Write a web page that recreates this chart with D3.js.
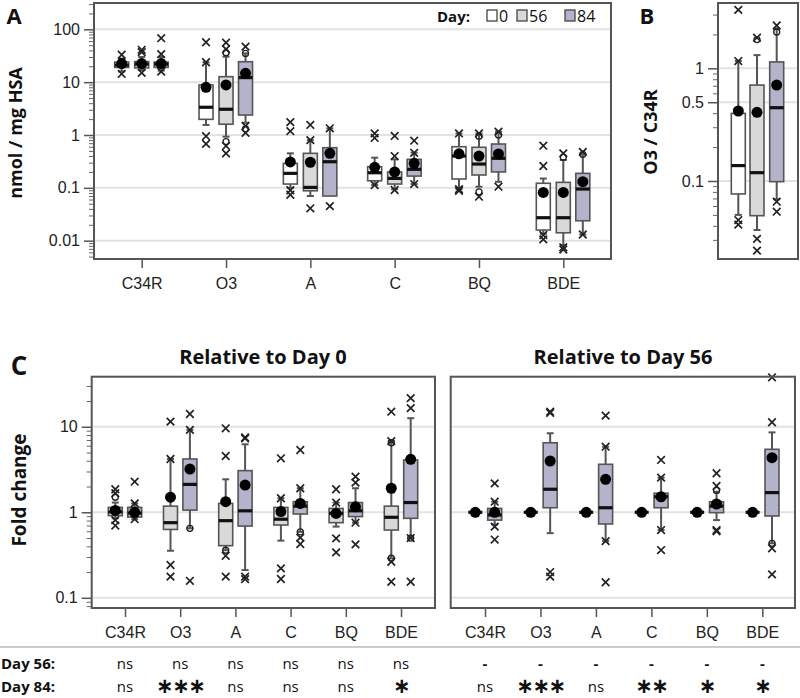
<!DOCTYPE html>
<html>
<head>
<meta charset="utf-8">
<script src="https://cdn.jsdelivr.net/npm/d3@7"></script>
<style>
  body { margin: 0; background: #fff; }
  svg { font-family: "Open Sans", sans-serif; }
</style>
</head>
<body>
<svg id="chart" width="800" height="698"></svg>
<script>
// ---- data (box = [low whisker, q1, median, q3, high whisker]) ----
var categories = ["C34R", "O3", "A", "C", "BQ", "BDE"];
var days = ["0", "56", "84"];

// Panel A: nmol / mg HSA
var aDay0Box = [[16, 19, 21, 24, 28], [1.55, 1.98, 3.35, 8.85, 23.8], [0.1, 0.118, 0.188, 0.29, 0.45],
  [0.113, 0.136, 0.193, 0.251, 0.372], [0.094, 0.147, 0.4, 0.6, 1.07], [0.0135, 0.0159, 0.0272, 0.122, 0.15]];
var aDay0Mean = [22.5, 8.0, 0.31, 0.244, 0.44, 0.082];
var aDay0Out = [[33, 14.3], [57, 23.8, 0.95, 0.68], [1.75, 1.18, 0.09, 0.074], [1.07, 0.88, 0.113],
  [1.07, 0.094, 0.088], [0.627, 0.259, 0.0128, 0.0106]];
var aDay0Ring = [[], [], [], [], [], []];

var aDay56Box = [[17, 18.6, 22, 24.5, 30], [0.93, 1.6, 3.07, 12.7, 30.4], [0.07, 0.088, 0.102, 0.45, 0.8],
  [0.094, 0.118, 0.151, 0.2, 0.346], [0.105, 0.175, 0.282, 0.585, 1.07], [0.0083, 0.0141, 0.0272, 0.127, 0.336]];
var aDay56Mean = [22.5, 8.85, 0.305, 0.2, 0.4, 0.082];
var aDay56Out = [[41, 37, 15], [56, 42, 0.62, 0.45], [1.55, 0.8, 0.041], [0.96, 0.4, 0.091],
  [1.07, 0.068], [0.45, 0.0075, 0.0068]];
var aDay56Ring = [[], [36, 0.75], [], [], [0.95, 0.084], [0.38]];

var aDay84Box = [[16.5, 19, 22, 24, 30], [1.7, 2.39, 12.2, 24.4, 35], [0.07, 0.07, 0.312, 0.575, 1.34],
  [0.118, 0.167, 0.224, 0.346, 0.463], [0.13, 0.2, 0.362, 0.675, 1.16], [0.0131, 0.0238, 0.095, 0.188, 0.43]];
var aDay84Mean = [22.5, 14.7, 0.45, 0.291, 0.437, 0.131];
var aDay84Out = [[68, 34, 15.8], [47, 1.48, 1.1], [1.34, 0.045], [0.78, 0.46, 0.118], [1.16, 0.105], [0.48, 0.0131]];
var aDay84Ring = [[], [35, 1.3], [], [], [1.0], [0.43]];

var aTicks = [0.01, 0.1, 1, 10, 100];
var aTickLabels = ["0.01", "0.1", "1", "10", "100"];

// Panel B: O3 / C34R
var bBox = [[0.05, 0.0767, 0.137, 0.398, 1.16], [0.0367, 0.0492, 0.1185, 0.71, 1.31], [0.0688, 0.0986, 0.447, 1.14, 2.26]];
var bMean = [0.418, 0.407, 0.71];
var bOut = [[3.3, 1.16, 0.045, 0.041], [1.87, 0.0306, 0.0241], [2.4, 0.0655, 0.0534]];
var bRing = [[], [1.8], [2.1]];
var bTicks = [0.1, 0.5, 1];
var bTickLabels = ["0.1", "0.5", "1"];

// Panel C left: relative to Day 0
var cL56Box = [[0.85, 0.913, 1.01, 1.14, 1.3], [0.355, 0.63, 0.756, 1.18, 4.2], [0.36, 0.407, 0.798, 1.27, 2.43],
  [0.466, 0.71, 0.83, 1.14, 1.46], [0.68, 0.756, 0.973, 1.11, 1.3], [0.29, 0.62, 0.874, 1.18, 6.8]];
var cL56Mean = [1.05, 1.5, 1.33, 1.02, 0.97, 1.91];
var cL56Out = [[1.86, 1.67, 0.81, 0.70], [11.5, 4.2, 0.242, 0.177], [9.6, 4.55, 0.31, 0.177],
  [4.28, 1.46, 0.221, 0.166], [1.86, 1.3, 0.496, 0.34], [15, 6.8, 0.264, 0.154]];
var cL56Ring = [[1.5], [], [0.36], [], [], [6.5, 0.29]];

var cL84Box = [[0.83, 0.88, 0.98, 1.14, 1.27], [0.65, 1.06, 2.12, 4.2, 9.2], [0.211, 0.69, 1.04, 3.07, 6.24],
  [0.59, 0.955, 1.18, 1.33, 1.91], [0.756, 0.89, 1.04, 1.3, 1.91], [0.5, 0.85, 1.3, 4.09, 12.6]];
var cL84Mean = [1.0, 3.2, 2.08, 1.27, 1.16, 4.16];
var cL84Out = [[2.28, 1.27, 0.83], [14.1, 9.2, 0.158], [7.5, 7.3, 0.177, 0.165], [5.35, 1.91, 0.505, 0.426],
  [2.61, 2.22, 0.756, 0.422], [21.6, 16.5, 0.5, 0.154]];
var cL84Ring = [[], [0.65], [], [0.59], [], [0.5]];

// Panel C right: relative to Day 56
var cR56Box = [[1, 1, 1, 1, 1], [1, 1, 1, 1, 1], [1, 1, 1, 1, 1], [1, 1, 1, 1, 1], [1, 1, 1, 1, 1], [1, 1, 1, 1, 1]];
var cR56Mean = [1, 1, 1, 1, 1, 1];
var cR84Box = [[0.72, 0.81, 0.93, 1.11, 1.33], [0.57, 1.13, 1.86, 6.5, 8.4], [0.46, 0.73, 1.13, 3.64, 5.85],
  [0.62, 1.13, 1.52, 1.67, 2.54], [0.81, 0.99, 1.18, 1.33, 1.74], [0.434, 0.905, 1.7, 5.45, 8.6]];
var cR84Mean = [1.0, 3.98, 2.43, 1.52, 1.25, 4.35];
var cR84Out = [[2.18, 1.33, 0.68, 0.48], [15, 14.5, 0.2, 0.177], [13.5, 5.85, 0.46, 0.152],
  [4.09, 2.54, 0.62, 0.362], [2.86, 2.03, 0.62, 0.6], [37.9, 11.3, 0.379, 0.188]];
var cR84Ring = [[], [], [], [], [1.8], [0.434]];

var cTicks = [0.1, 1, 10];
var cTickLabels = ["0.1", "1", "10"];

var sigL56 = ["ns", "ns", "ns", "ns", "ns", "ns"];
var sigL84 = ["ns", "***", "ns", "ns", "ns", "*"];
var sigR56 = ["-", "-", "-", "-", "-", "-"];
var sigR84 = ["ns", "***", "ns", "**", "*", "*"];

// ---- styles ----
var dayFill = { "0": "#ffffff", "56": "#d9d9d9", "84": "#b3b3cb" };
var frameColor = "#555";
var gridColor = "#e2e2e2";

var svg = d3.select("#chart");

function frame(x0, x1, y0, y1) {
  svg.append("rect").attr("x", x0).attr("y", y0).attr("width", x1 - x0).attr("height", y1 - y0)
    .attr("fill", "none").attr("stroke", frameColor).attr("stroke-width", 2);
}

function yAxis(y, x0, x1, ticks, labels, grid) {
  if (grid) {
    svg.append("g").selectAll("line").data(ticks).enter().append("line")
      .attr("x1", x0 + 1).attr("x2", x1 - 1)
      .attr("y1", d => y(d)).attr("y2", d => y(d))
      .attr("stroke", gridColor).attr("stroke-width", 2);
  }
  if (!labels) return;
  var minor = y.ticks().filter(t => ticks.indexOf(t) < 0);
  svg.append("g").attr("transform", "translate(" + x0 + ",0)")
    .call(d3.axisLeft(y).tickValues(minor).tickSize(5).tickFormat(""))
    .call(g => g.select(".domain").remove())
    .call(g => g.selectAll("line").attr("stroke", "#666"));
  svg.append("g").attr("transform", "translate(" + x0 + ",0)")
    .call(d3.axisLeft(y).tickValues(ticks).tickSize(10).tickPadding(4)
      .tickFormat((d, i) => labels[i]))
    .call(g => g.select(".domain").remove())
    .call(g => g.selectAll("line").attr("stroke", "#555").attr("stroke-width", 1.5))
    .call(g => g.selectAll("text").attr("font-size", 16).attr("fill", "#222"));
}

function xAxis(x, yb, labels) {
  svg.append("g").attr("transform", "translate(0," + yb + ")")
    .call(d3.axisBottom(x).tickSize(9).tickPadding(10))
    .call(g => g.select(".domain").remove())
    .call(g => g.selectAll("line").attr("stroke", "#555").attr("stroke-width", 1.5))
    .call(g => g.selectAll("text").attr("font-size", 16).attr("fill", "#222")
      .style("display", labels ? null : "none"));
}

function drawBox(g, cx, y, box, mean, outs, rings, fill) {
  var w = 14, cap = 7;
  var lo = y(box[0]), q1 = y(box[1]), md = y(box[2]), q3 = y(box[3]), hi = y(box[4]);
  var line = (x1, y1, x2, y2, sw, col) => g.append("line").attr("x1", x1).attr("y1", y1)
    .attr("x2", x2).attr("y2", y2).attr("stroke", col).attr("stroke-width", sw);
  if (hi < q3 - 0.5) { line(cx, q3, cx, hi, 2, "#555"); line(cx - cap / 2, hi, cx + cap / 2, hi, 2, "#555"); }
  if (lo > q1 + 0.5) { line(cx, q1, cx, lo, 2, "#555"); line(cx - cap / 2, lo, cx + cap / 2, lo, 2, "#555"); }
  g.append("rect").attr("x", cx - w / 2).attr("y", q3).attr("width", w).attr("height", Math.max(0, q1 - q3))
    .attr("fill", fill).attr("stroke", "#555").attr("stroke-width", 1.6);
  line(cx - w / 2, md, cx + w / 2, md, 3.2, "#111");
  (rings || []).forEach(v => g.append("circle").attr("cx", cx).attr("cy", y(v)).attr("r", 3)
    .attr("fill", "none").attr("stroke", "#222").attr("stroke-width", 1.3));
  (outs || []).forEach(v => g.append("path")
    .attr("d", "M-3.8,-3.8L3.8,3.8M-3.8,3.8L3.8,-3.8")
    .attr("transform", "translate(" + cx + "," + y(v) + ")")
    .attr("stroke", "#222").attr("stroke-width", 1.7).attr("fill", "none"));
  g.append("circle").attr("cx", cx).attr("cy", y(mean)).attr("r", 5.5).attr("fill", "#000");
}

function label(txt, x, y, size, weight, rotate, anchor) {
  var t = svg.append("text").text(txt).attr("font-size", size).attr("font-weight", weight || "normal")
    .attr("fill", "#111").attr("text-anchor", anchor || "middle");
  if (rotate) t.attr("transform", "translate(" + x + "," + y + ") rotate(-90)");
  else t.attr("x", x).attr("y", y);
  return t;
}

// ---------------- Panel A ----------------
var aX = d3.scalePoint().domain(categories).range([141.7, 563.3]);
var aY = d3.scaleLog().domain([0.0045, 315]).range([259, 3]);
yAxis(aY, 94, 611, aTicks, aTickLabels, true);
var aG = svg.append("g");
var aOff = [-20, 0, 19.5];
var aSets = [[aDay0Box, aDay0Mean, aDay0Out, aDay0Ring], [aDay56Box, aDay56Mean, aDay56Out, aDay56Ring],
  [aDay84Box, aDay84Mean, aDay84Out, aDay84Ring]];
categories.forEach((c, i) => {
  aSets.forEach((s, d) => drawBox(aG, aX(c) + aOff[d], aY, s[0][i], s[1][i], s[2][i], s[3][i], dayFill[days[d]]));
});
frame(94, 611, 3, 259);
xAxis(aX, 259, true);
label("A", 14, 24, 22, "bold");
label("nmol / mg HSA", 22, 133, 18, "bold", true);

// legend
label("Day:", 437, 22, 15, "bold", false, "start");
var legX = [487, 517, 565];
days.forEach((d, i) => {
  svg.append("rect").attr("x", legX[i]).attr("y", 10).attr("width", 10).attr("height", 11)
    .attr("fill", dayFill[d]).attr("stroke", "#444").attr("stroke-width", 1.3);
  label(d, legX[i] + 12, 22, 16, "normal", false, "start");
});

// ---------------- Panel B ----------------
var bY = d3.scaleLog().domain([0.0203, 3.8]).range([259, 3]);
yAxis(bY, 718, 798, bTicks, bTickLabels, true);
var bG = svg.append("g");
var bX = [738.3, 757, 776.7];
days.forEach((d, i) => drawBox(bG, bX[i], bY, bBox[i], bMean[i], bOut[i], bRing[i], dayFill[d]));
frame(718, 798, 3, 259);
label("B", 647, 24, 22, "bold");
label("O3 / C34R", 657, 132, 18, "bold", true);

// ---------------- Panel C ----------------
var cY = d3.scaleLog().domain([0.076, 38.5]).range([608, 376.7]);
var cXL = d3.scalePoint().domain(categories).range([125, 401]);
var cXR = d3.scalePoint().domain(categories).range([485, 762.3]);
yAxis(cY, 91.7, 435, cTicks, cTickLabels, true);
yAxis(cY, 450.7, 795, cTicks, null, true);
var cG = svg.append("g");
categories.forEach((c, i) => {
  drawBox(cG, cXL(c) - 9.7, cY, cL56Box[i], cL56Mean[i], cL56Out[i], cL56Ring[i], dayFill["56"]);
  drawBox(cG, cXL(c) + 9.7, cY, cL84Box[i], cL84Mean[i], cL84Out[i], cL84Ring[i], dayFill["84"]);
  drawBox(cG, cXR(c) - 9.7, cY, cR56Box[i], cR56Mean[i], [], [], dayFill["56"]);
  drawBox(cG, cXR(c) + 9.7, cY, cR84Box[i], cR84Mean[i], cR84Out[i], cR84Ring[i], dayFill["84"]);
});
frame(91.7, 435, 376.7, 608);
frame(450.7, 795, 376.7, 608);
xAxis(cXL, 608, true);
xAxis(cXR, 608, true);
label("C", 19, 375, 26, "bold");
label("Fold change", 26, 490, 19, "bold", true);
label("Relative to Day 0", 263, 364, 20, "bold");
label("Relative to Day 56", 623, 364, 20, "bold");

// significance table
svg.append("line").attr("x1", 0).attr("x2", 800).attr("y1", 647).attr("y2", 647)
  .attr("stroke", "#999").attr("stroke-width", 1);
label("Day 56:", 1, 669, 15, "bold", false, "start");
label("Day 84:", 1, 692, 15, "bold", false, "start");
function sigRow(arr, x, yb) {
  arr.forEach((s, i) => {
    var star = s.indexOf("*") >= 0, dash = s === "-";
    var t = label(star ? s.replace(/\*/g, "\u2217") : s, x(categories[i]), yb + (star ? 1 : 0),
      star ? 21 : 15, star || dash ? "bold" : "normal");
    if (star) t.attr("font-family", "DejaVu Sans").attr("letter-spacing", -1.5);
  });
}
sigRow(sigL56, cXL, 669);
sigRow(sigL84, cXL, 692);
sigRow(sigR56, cXR, 669);
sigRow(sigR84, cXR, 692);
</script>
</body>
</html>
